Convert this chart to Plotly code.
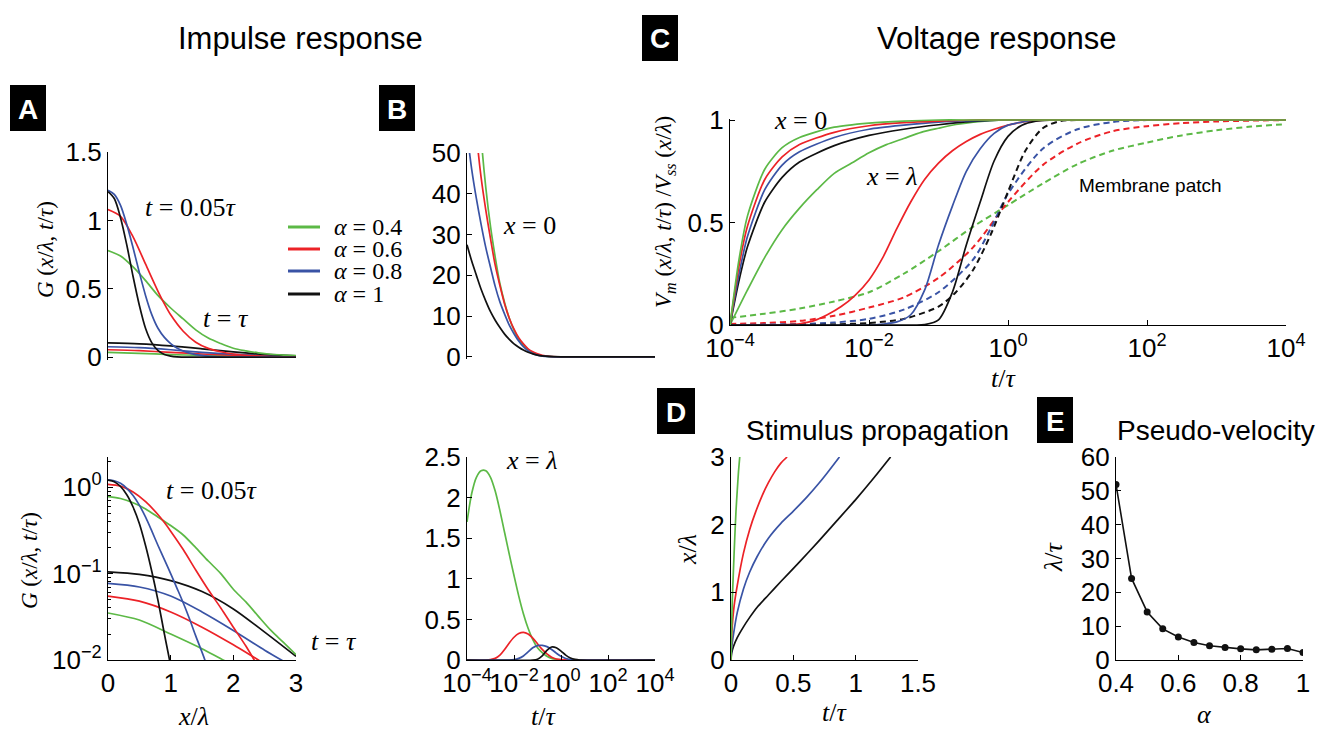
import plotly.graph_objects as go
import numpy as np

W, H = 1326, 730
GREEN = "#5cb946"; RED = "#ec2227"; BLUE = "#3953a5"; BLACK = "#111111"
SERIF = "Liberation Serif, Times New Roman, serif"
SANS = "Liberation Sans, Arial, sans-serif"

alphas = ["0.4", "0.6", "0.8", "1"]
colors = [GREEN, RED, BLUE, BLACK]

# ---------- Panel A : G(x/lambda, t/tau) vs x/lambda ----------
xa_g05 = [0, 0.2, 0.4, 0.6, 0.8, 1.0, 1.2, 1.4, 1.6, 1.8, 2.0, 2.2, 2.4, 2.6, 2.8, 3.0]
Ga_g05 = [0.78, 0.74, 0.66, 0.56, 0.45, 0.36, 0.28, 0.20, 0.14, 0.10, 0.066, 0.047, 0.032, 0.022, 0.016, 0.0115]
xa_r05 = [0, 0.2, 0.4, 0.6, 0.8, 0.9, 1.0, 1.2, 1.4, 1.6, 1.8, 2.0, 2.2, 2.35, 2.5, 2.8, 3.0]
Ga_r05 = [1.08, 1.03, 0.88, 0.68, 0.48, 0.39, 0.31, 0.19, 0.11, 0.065, 0.04, 0.024, 0.0145, 0.0095, 0.006, 0.002, 0.001]
xa_b05 = [0, 0.1, 0.2, 0.3, 0.4, 0.5, 0.6, 0.7, 0.8, 0.9, 1.0, 1.1, 1.2, 1.3, 1.4, 1.55, 1.7, 2.0, 3.0]
Ga_b05 = [1.22, 1.19, 1.11, 0.97, 0.80, 0.62, 0.45, 0.31, 0.21, 0.145, 0.10, 0.068, 0.046, 0.03, 0.019, 0.0098, 0.004, 0.0005, 1e-6]
xa_k05 = [0, 0.1, 0.2, 0.3, 0.4, 0.5, 0.6, 0.7, 0.8, 0.9, 1.0, 1.1, 1.3, 3.0]
Ga_k05 = [1.21, 1.16, 1.02, 0.82, 0.59, 0.38, 0.21, 0.105, 0.048, 0.02, 0.0085, 0.003, 0.0003, 1e-6]

xa_g1 = [0, 0.5, 1.0, 1.5, 1.9, 2.5, 3.0]
Ga_g1 = [0.035, 0.029, 0.02, 0.0135, 0.0095, 0.006, 0.0035]
xa_r1 = [0, 0.5, 1.0, 1.5, 2.0, 2.45, 3.0]
Ga_r1 = [0.055, 0.048, 0.036, 0.024, 0.015, 0.0095, 0.0055]
xa_b1 = [0, 0.5, 1.0, 1.5, 2.0, 2.5, 2.82, 3.0]
Ga_b1 = [0.077, 0.07, 0.055, 0.036, 0.022, 0.013, 0.0095, 0.008]
xa_k1 = [0, 0.5, 1.0, 1.5, 2.0, 2.5, 3.0]
Ga_k1 = [0.105, 0.098, 0.083, 0.062, 0.039, 0.021, 0.011]

# ---------- Panel B : G vs t/tau (log10 t) ----------
lt_B0 = [-4, -3.8, -3.6, -3.4, -3.2, -3.0, -2.8, -2.6, -2.4, -2.2, -2.0, -1.8, -1.6, -1.4, -1.2, -1.0, -0.8, -0.5, 0, 1, 4]
GB0_g = [140, 100, 72, 54, 41.5, 32, 24.5, 18, 13.3, 9.5, 6.6, 4.4, 2.9, 1.8, 1.05, 0.6, 0.3, 0.1, 0.01, 0, 0]
GB0_r = [95, 72, 55, 44, 36, 29, 22.5, 17.5, 13, 9.5, 6.8, 4.7, 3.2, 2.0, 1.25, 0.75, 0.4, 0.15, 0.02, 0, 0]
GB0_b = [55, 46, 38.8, 32.5, 26.8, 22, 17.3, 13.5, 10.5, 7.8, 5.7, 3.9, 2.5, 1.5, 0.85, 0.45, 0.22, 0.08, 0.01, 0, 0]
GB0_k = [27.5, 23.5, 20, 16.6, 13.7, 11.1, 9.0, 7.2, 5.6, 4.3, 3.2, 2.4, 1.7, 1.15, 0.75, 0.45, 0.27, 0.12, 0.03, 0, 0]

lt_Bl_g = [-4, -3.8, -3.6, -3.4, -3.2, -3.0, -2.8, -2.6, -2.4, -2.2, -2.0, -1.8, -1.6, -1.4, -1.2, -1.0, -0.8, -0.6, -0.4, -0.2, 0, 1, 4]
GBl_g = [1.70, 2.05, 2.25, 2.33, 2.33, 2.25, 2.08, 1.84, 1.57, 1.30, 1.04, 0.79, 0.57, 0.39, 0.25, 0.15, 0.09, 0.045, 0.02, 0.008, 0.003, 0, 0]
lt_Bl_r = [-4, -3.2, -3.0, -2.8, -2.6, -2.4, -2.2, -2.0, -1.8, -1.6, -1.4, -1.2, -1.0, -0.8, -0.6, -0.4, -0.2, 0, 0.4, 4]
GBl_r = [0, 0, 0.005, 0.02, 0.06, 0.13, 0.21, 0.28, 0.325, 0.34, 0.32, 0.27, 0.2, 0.13, 0.075, 0.035, 0.012, 0.004, 0, 0]
lt_Bl_b = [-4, -2.2, -2.0, -1.8, -1.6, -1.4, -1.2, -1.0, -0.8, -0.6, -0.4, -0.2, 0, 0.2, 0.4, 0.6, 4]
GBl_b = [0, 0, 0.005, 0.02, 0.05, 0.1, 0.15, 0.178, 0.18, 0.165, 0.13, 0.085, 0.045, 0.018, 0.005, 0, 0]
lt_Bl_k = [-4, -1.2, -1.0, -0.8, -0.6, -0.4, -0.2, 0, 0.2, 0.4, 0.6, 0.8, 4]
GBl_k = [0, 0, 0.01, 0.05, 0.12, 0.16, 0.15, 0.11, 0.06, 0.025, 0.007, 0, 0]

# ---------- Panel C : normalised voltage vs t/tau (log10 t) ----------
lt_C0 = [-4, -3.875, -3.75, -3.5, -3.25, -3.0, -2.5, -2.0, -1.5, -1.0, -0.5, 0, 4]
VC0_g = [0, 0.31, 0.53, 0.76, 0.865, 0.915, 0.965, 0.985, 0.995, 1, 1, 1, 1]
VC0_r = [0, 0.28, 0.48, 0.71, 0.82, 0.88, 0.94, 0.972, 0.987, 0.995, 1, 1, 1]
VC0_b = [0, 0.24, 0.43, 0.66, 0.78, 0.845, 0.915, 0.955, 0.975, 0.99, 0.997, 1, 1]
VC0_k = [0, 0.21, 0.38, 0.60, 0.72, 0.795, 0.875, 0.925, 0.955, 0.977, 0.993, 1, 1]
lt_Cl_g = [-4, -3.75, -3.5, -3.25, -3.0, -2.75, -2.5, -2.25, -2.0, -1.75, -1.5, -1.25, -1.0, -0.75, -0.5, -0.25, 0, 1, 4]
VCl_g = [0, 0.17, 0.33, 0.465, 0.57, 0.66, 0.74, 0.79, 0.84, 0.88, 0.91, 0.94, 0.96, 0.978, 0.99, 0.997, 1, 1, 1]
lt_Cl_r = [-4, -3.5, -3.2, -3.0, -2.8, -2.6, -2.4, -2.2, -2.0, -1.8, -1.6, -1.4, -1.2, -1.0, -0.8, -0.6, -0.4, -0.2, 0, 0.2, 0.4, 0.6, 1, 2, 4]
VCl_r = [0, 0, 0.002, 0.006, 0.02, 0.05, 0.09, 0.145, 0.22, 0.33, 0.47, 0.60, 0.71, 0.79, 0.85, 0.895, 0.93, 0.955, 0.975, 0.99, 0.997, 1, 1, 1, 1]
lt_Cl_b = [-4, -2.0, -1.8, -1.6, -1.4, -1.2, -1.0, -0.8, -0.6, -0.4, -0.2, 0, 0.2, 0.4, 1, 4]
VCl_b = [0, 0, 0.005, 0.015, 0.05, 0.17, 0.39, 0.58, 0.75, 0.86, 0.935, 0.975, 0.99, 1, 1, 1]
lt_Cl_k = [-4, -1.4, -1.2, -1.0, -0.8, -0.6, -0.4, -0.2, 0, 0.2, 0.4, 0.6, 1, 4]
VCl_k = [0, 0, 0.002, 0.025, 0.16, 0.39, 0.60, 0.80, 0.92, 0.975, 0.995, 1, 1, 1]
lt_Cp_g = [-4, -3.5, -3.0, -2.5, -2.0, -1.5, -1.0, -0.5, 0, 0.5, 1, 1.5, 2, 2.5, 3, 3.5, 4]
VCp_g = [0.035, 0.055, 0.08, 0.115, 0.16, 0.25, 0.36, 0.48, 0.585, 0.69, 0.785, 0.85, 0.89, 0.925, 0.95, 0.968, 0.98]
lt_Cp_r = [-4, -3.5, -3, -2.5, -2, -1.5, -1, -0.5, 0, 0.5, 1, 1.5, 2, 2.5, 3, 4]
VCp_r = [0.005, 0.01, 0.02, 0.045, 0.085, 0.135, 0.23, 0.38, 0.60, 0.78, 0.885, 0.945, 0.97, 0.985, 0.993, 1.0]
lt_Cp_b = [-4, -3, -2.5, -2, -1.5, -1, -0.5, -0.25, 0, 0.5, 1, 1.5, 2, 4]
VCp_b = [0, 0.005, 0.012, 0.03, 0.075, 0.16, 0.32, 0.47, 0.64, 0.86, 0.955, 0.99, 1, 1]
lt_Cp_k = [-4, -3, -2.5, -2, -1.5, -1, -0.75, -0.5, -0.25, 0, 0.25, 0.5, 0.75, 1, 4]
VCp_k = [0, 0.001, 0.003, 0.01, 0.03, 0.09, 0.16, 0.27, 0.44, 0.65, 0.85, 0.96, 0.995, 1, 1]

# ---------- Panel D : stimulus propagation ----------
tD_g = [0, 0.005, 0.01, 0.02, 0.03, 0.04, 0.05, 0.06, 0.07]
xD_g = [0, 0.45, 0.85, 1.35, 1.8, 2.2, 2.5, 2.78, 3.0]
tD_r = [0, 0.003, 0.01, 0.025, 0.05, 0.1, 0.15, 0.2, 0.25, 0.3, 0.35, 0.4, 0.45]
xD_r = [0, 0.25, 0.5, 0.8, 1.1, 1.58, 1.93, 2.2, 2.43, 2.62, 2.78, 2.91, 3.0]
tD_b = [0, 0.005, 0.02, 0.05, 0.1, 0.15, 0.21, 0.3, 0.4, 0.5, 0.61, 0.7, 0.77, 0.87]
xD_b = [0, 0.17, 0.38, 0.7, 1.05, 1.3, 1.53, 1.8, 2.02, 2.2, 2.41, 2.6, 2.76, 3.0]
tD_k = [0, 0.005, 0.02, 0.05, 0.1, 0.15, 0.21, 0.3, 0.4, 0.55, 0.7, 0.85, 1.0, 1.15, 1.28]
xD_k = [0, 0.1, 0.2, 0.33, 0.49, 0.63, 0.78, 0.96, 1.16, 1.45, 1.75, 2.06, 2.37, 2.7, 3.0]

# ---------- Panel E : pseudo-velocity ----------
alphaE = [0.4, 0.45, 0.5, 0.55, 0.6, 0.65, 0.7, 0.75, 0.8, 0.85, 0.9, 0.95, 1.0]
velE = [51.9, 24.1, 14.2, 9.2, 6.8, 5.2, 4.2, 3.7, 3.3, 3.0, 3.2, 3.4, 2.2]

# ================= figure =================
def dx(a, b):
    return [a / W, b / W]

def dy(top, bottom):
    return [1 - bottom / H, 1 - top / H]

def P(px, py):
    return px / W, 1 - py / H

def axis(domain, rng, anchor, **kw):
    d = dict(domain=domain, range=rng, anchor=anchor, showline=True, linecolor="black",
             linewidth=1.3, ticks="inside", ticklen=5, tickwidth=1.2, tickcolor="black",
             showgrid=False, zeroline=False, tickangle=0, automargin=False,
             tickfont=dict(family=SANS, size=26, color="black"))
    d.update(kw)
    return d

fig = go.Figure()

def line(x, y, color, xa, ya, dash=None, width=1.7, smooth=0.8):
    fig.add_trace(go.Scatter(x=x, y=y, mode="lines", xaxis=xa, yaxis=ya, showlegend=False,
                             hoverinfo="skip",
                             line=dict(color=color, width=width, shape="spline", smoothing=smooth,
                                       dash=dash if dash else "solid")))

A05 = [(xa_g05, Ga_g05), (xa_r05, Ga_r05), (xa_b05, Ga_b05), (xa_k05, Ga_k05)]
A1 = [(xa_g1, Ga_g1), (xa_r1, Ga_r1), (xa_b1, Ga_b1), (xa_k1, Ga_k1)]
for (xx, yy), c in zip(A1, colors):
    line(xx, yy, c, "x", "y"); line(xx, yy, c, "x2", "y2")
for (xx, yy), c in zip(A05, colors):
    line(xx, yy, c, "x", "y"); line(xx, yy, c, "x2", "y2")

T = lambda lt: [10.0 ** v for v in lt]
for yy, c in zip([GB0_g, GB0_r, GB0_b, GB0_k], colors):
    line(T(lt_B0), yy, c, "x3", "y3")
for (lt, yy), c in zip([(lt_Bl_g, GBl_g), (lt_Bl_r, GBl_r), (lt_Bl_b, GBl_b), (lt_Bl_k, GBl_k)], colors):
    line(T(lt), yy, c, "x4", "y4")

for (lt, yy), c in zip([(lt_Cp_g, VCp_g), (lt_Cp_r, VCp_r), (lt_Cp_b, VCp_b), (lt_Cp_k, VCp_k)], colors):
    line(T(lt), yy, c, "x5", "y5", dash="6px,4px", width=2.0)
line(T(lt_Cl_g), VCl_g, GREEN, "x5", "y5")
for (lt, yy), c in zip([(lt_Cl_r, VCl_r), (lt_Cl_b, VCl_b), (lt_Cl_k, VCl_k)], colors[1:]):
    line(T(lt), yy, c, "x5", "y5")
for yy, c in zip([VC0_k, VC0_b, VC0_r, VC0_g], [BLACK, BLUE, RED, GREEN]):
    line(T(lt_C0), yy, c, "x5", "y5", smooth=0.7)

for (tt, xx), c in zip([(tD_k, xD_k), (tD_b, xD_b), (tD_r, xD_r), (tD_g, xD_g)], [BLACK, BLUE, RED, GREEN]):
    line(tt, xx, c, "x6", "y6", smooth=0.6)

fig.add_trace(go.Scatter(x=alphaE, y=velE, mode="lines+markers", xaxis="x7", yaxis="y7",
                         showlegend=False, hoverinfo="skip",
                         line=dict(color=BLACK, width=1.6),
                         marker=dict(color=BLACK, size=7)))

sup = lambda e: "10<sup>%s</sup>" % e
logticks = dict(tickvals=[1e-4, 1e-2, 1, 1e2, 1e4], ticktext=[sup("−4"), sup("−2"), sup("0"), sup("2"), sup("4")])
minor_log = [k * 10.0 ** e for e in (-2, -1) for k in range(2, 10)] + [2.0]

lay = dict(
    width=W, height=H, margin=dict(l=0, r=0, t=0, b=0, pad=0, autoexpand=False),
    autosize=False, showlegend=False,
    paper_bgcolor="white", plot_bgcolor="rgba(0,0,0,0)",
    xaxis=axis(dx(108, 296), [0, 3], "y", visible=False),
    yaxis=axis(dy(152, 360), [-0.02, 1.5], "x", tickvals=[0, 0.5, 1, 1.5], ticktext=["0", "0.5", "1", "1.5"]),
    xaxis2=axis(dx(108, 296), [0, 3], "y2", tickvals=[0, 1, 2, 3]),
    yaxis2=axis(dy(457, 660), [-2, 0.35], "x2", type="log", tickvals=[0.01, 0.1, 1],
                ticktext=[sup("−2"), sup("−1"), sup("0")],
                minor=dict(tickvals=minor_log, ticks="inside", ticklen=3, tickcolor="black", showgrid=False)),
    xaxis3=axis(dx(467, 655), [-4, 4], "y3", type="log", visible=False),
    yaxis3=axis(dy(153, 359), [-0.5, 50], "x3", tickvals=[0, 10, 20, 30, 40, 50]),
    xaxis4=axis(dx(467, 655), [-4, 4], "y4", type="log", **logticks),
    yaxis4=axis(dy(457, 660), [0, 2.5], "x4", tickvals=[0, 0.5, 1, 1.5, 2, 2.5],
                ticktext=["0", "0.5", "1", "1.5", "2", "2.5"]),
    xaxis5=axis(dx(730, 1286), [-4, 4], "y5", type="log", **logticks),
    yaxis5=axis(dy(119, 325), [0, 1.005], "x5", tickvals=[0, 0.5, 1], ticktext=["0", "0.5", "1"]),
    xaxis6=axis(dx(731, 918), [0, 1.5], "y6", tickvals=[0, 0.5, 1, 1.5], ticktext=["0", "0.5", "1", "1.5"]),
    yaxis6=axis(dy(457, 660), [0, 3], "x6", tickvals=[0, 1, 2, 3]),
    xaxis7=axis(dx(1116, 1303), [0.4, 1], "y7", tickvals=[0.4, 0.6, 0.8, 1], ticktext=["0.4", "0.6", "0.8", "1"]),
    yaxis7=axis(dy(457, 660), [0, 60], "x7", tickvals=[0, 10, 20, 30, 40, 50, 60]),
)
fig.update_layout(**lay)

ann = []
shapes = []

def text(px, py, s, size=24, family=SERIF, angle=0, color="black", xanchor="center"):
    x, y = P(px, py)
    ann.append(dict(x=x, y=y, xref="paper", yref="paper", text=s, showarrow=False,
                    font=dict(family=family, size=size, color=color), textangle=angle,
                    xanchor=xanchor, yanchor="middle"))

# headings
text(300, 38, "Impulse response", 31, SANS)
text(997, 38, "Voltage response", 31, SANS)
text(877, 430, "Stimulus propagation", 28, SANS)
text(1216, 430, "Pseudo-velocity", 28, SANS)

# panel letter boxes
for lab, (x0, y0, x1, y1) in zip("ABCDE", [(10, 85, 46, 131), (379, 85, 415, 131), (642, 15, 678, 61),
                                        (657, 388, 695, 434), (1037, 397, 1073, 443)]):
    ax0, ay1 = P(x0, y0); ax1, ay0 = P(x1, y1)
    shapes.append(dict(type="rect", xref="paper", yref="paper", x0=ax0, x1=ax1, y0=ay0, y1=ay1,
                       fillcolor="black", line=dict(width=0)))
    text((x0 + x1) / 2, (y0 + y1) / 2 + 1, "<b>%s</b>" % lab, 28, SANS, color="white")

# legend
for i, (a, c) in enumerate(zip(alphas, colors)):
    py = [227, 249, 271, 294][i]
    lx0, ly = P(288, py); lx1, _ = P(320, py)
    shapes.append(dict(type="line", xref="paper", yref="paper", x0=lx0, x1=lx1, y0=ly, y1=ly,
                       line=dict(color=c, width=3)))
    text(332, py, "<i>α</i> = %s" % a, 24, xanchor="left")

# curve labels
text(191, 208, "<i>t</i> = 0.05<i>τ</i>", 26)
text(226, 319, "<i>t</i> = <i>τ</i>", 26)
text(211, 490, "<i>t</i> = 0.05<i>τ</i>", 26)
text(334, 641, "<i>t</i> = <i>τ</i>", 26)
text(529, 225, "<i>x</i> = 0", 26)
text(531, 460, "<i>x</i> = <i>λ</i>", 26)
text(800, 120, "<i>x</i> = 0", 26)
text(891, 177, "<i>x</i> = <i>λ</i>", 26)
text(1150, 185, "Membrane patch", 19, SANS)

# axis titles
GL = "<i>G</i> (<i>x</i>/<i>λ</i>, <i>t</i>/<i>τ</i>)"
text(45, 250, GL, 23, angle=-90)
text(29, 560, GL, 23, angle=-90)
text(193, 716, "<i>x</i>/<i>λ</i>", 26)
text(543, 716, "<i>t</i>/<i>τ</i>", 26)
text(665, 212, "<i>V<sub>m</sub></i> (<i>x</i>/<i>λ</i>, <i>t</i>/<i>τ</i>) /<i>V<sub>ss</sub></i> (<i>x</i>/<i>λ</i>)", 23, angle=-90)
text(1003, 378, "<i>t</i>/<i>τ</i>", 26)
text(687, 550, "<i>x</i>/<i>λ</i>", 26, angle=-90)
text(834, 712, "<i>t</i>/<i>τ</i>", 26)
text(1053, 557, "<i>λ</i>/<i>τ</i>", 26, angle=-90)
text(1204, 714, "<i>α</i>", 26)

fig.update_layout(annotations=ann, shapes=shapes)
fig.write_html("out.html")
